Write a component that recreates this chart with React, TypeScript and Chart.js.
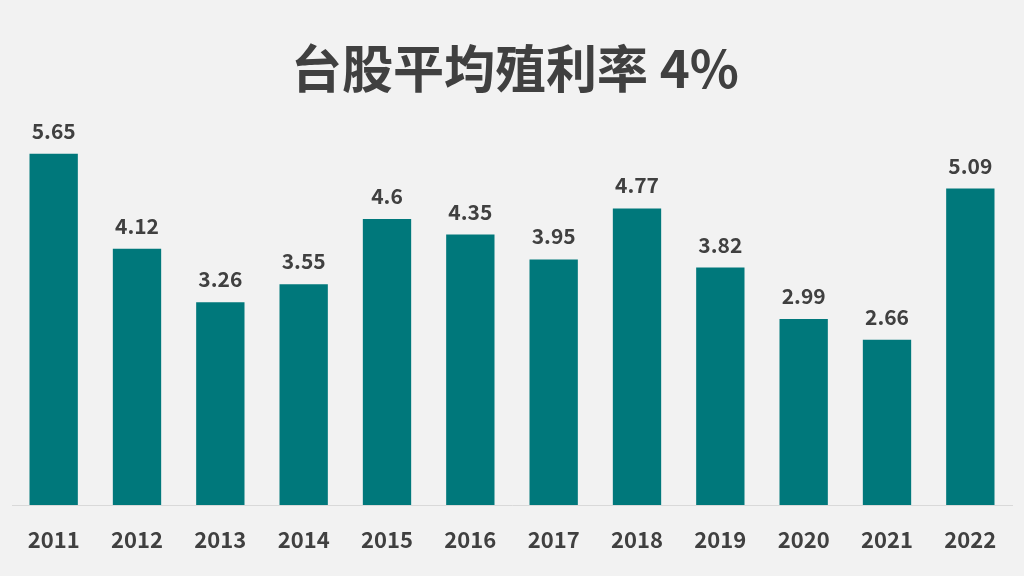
import React, { useEffect, useRef } from "react";
import { Chart, registerables } from "chart.js";

Chart.register(...registerables);

const TITLE = "台股平均殖利率 4%";
const years = ["2011", "2012", "2013", "2014", "2015", "2016", "2017", "2018", "2019", "2020", "2021", "2022"];
const yields = [5.65, 4.12, 3.26, 3.55, 4.6, 4.35, 3.95, 4.77, 3.82, 2.99, 2.66, 5.09];

const FONT = '"Noto Sans CJK TC", "Noto Sans", sans-serif';
const TEXT = "#404040";
const BAR = "#00787B";
const BG = "#F2F2F2";

const bgTitleLabels = {
  id: "bgTitleLabels",
  beforeDraw(chart: any) {
    const { ctx, width, height } = chart;
    ctx.save();
    ctx.fillStyle = BG;
    ctx.fillRect(0, 0, width, height);
    ctx.restore();
  },
  afterDatasetsDraw(chart: any) {
    const { ctx, width } = chart;
    ctx.save();
    ctx.fillStyle = TEXT;
    ctx.textAlign = "center";
    ctx.textBaseline = "middle";
    ctx.font = `bold 51px ${FONT}`;
    ctx.fillText(TITLE, width / 2 + 3, 69);
    ctx.font = `bold 21px ${FONT}`;
    ctx.textBaseline = "alphabetic";
    const meta = chart.getDatasetMeta(0);
    meta.data.forEach((bar: any, i: number) => {
      ctx.fillText(String(yields[i]), bar.x, bar.y - 15);
    });
    ctx.restore();
  },
};

export default function App() {
  const ref = useRef<HTMLCanvasElement | null>(null);
  useEffect(() => {
    document.body.style.margin = "0";
    const chart = new Chart(ref.current as HTMLCanvasElement, {
      type: "bar",
      data: {
        labels: years,
        datasets: [
          {
            data: yields,
            backgroundColor: BAR,
            borderWidth: 0,
            barPercentage: 0.58,
            categoryPercentage: 1,
          },
        ],
      },
      options: {
        animation: false,
        responsive: false,
        maintainAspectRatio: false,
        layout: { padding: { top: 132, left: 12, right: 12, bottom: 0 } },
        plugins: { legend: { display: false }, title: { display: false }, tooltip: { enabled: false } },
        scales: {
          x: {
            grid: { display: false },
            border: { display: true, color: "#D9D9D9", width: 1 },
            ticks: { color: TEXT, font: { family: FONT, size: 22, weight: "bold" }, padding: 13, maxRotation: 0 },
            afterFit: (s: any) => {
              s.height = 71;
            },
          },
          y: { display: false, min: 0, max: 6 },
        },
      },
      plugins: [bgTitleLabels],
    });
    return () => chart.destroy();
  }, []);
  return <canvas ref={ref} width={1024} height={576} style={{ display: "block", width: 1024, height: 576 }} />;
}
